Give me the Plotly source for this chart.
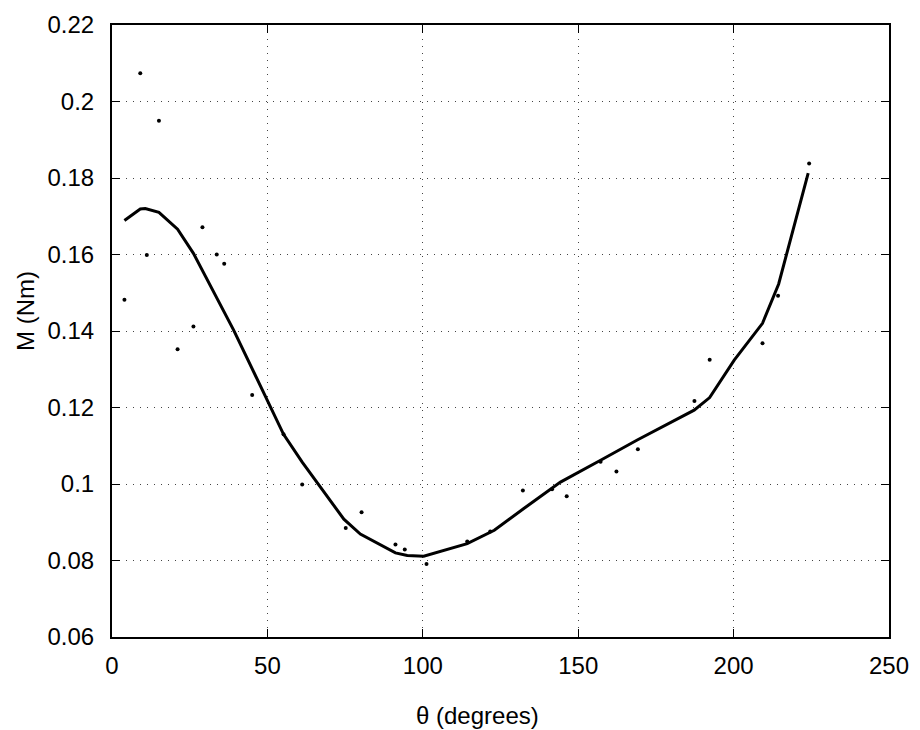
import plotly.graph_objects as go

theta_pts = [4.0, 9.1, 11.2, 15.1, 21.1, 26.2, 29.1, 33.7, 36.1, 45.1, 55.2, 61.2,
             75.2, 80.3, 91.2, 94.2, 101.2, 114.3, 121.7, 132.2, 141.6, 146.3, 157.2,
             162.3, 169.2, 187.4, 192.3, 209.3, 214.3, 224.3]
m_pts = [0.1482, 0.2074, 0.1599, 0.1950, 0.1352, 0.1412, 0.1671, 0.1600, 0.1576,
         0.1233, 0.1130, 0.0999, 0.0885, 0.0926, 0.0842, 0.0829, 0.0791, 0.0850,
         0.0876, 0.0983, 0.0986, 0.0968, 0.1058, 0.1033, 0.1091, 0.1217, 0.1325,
         0.1368, 0.1492, 0.1838]

theta_fit = [4.0, 9.1, 10.7, 15.1, 21.1, 26.2, 39.1, 55.2, 61.2, 74.6, 79.9, 91.2,
             95.0, 100.3, 114.3, 123.0, 132.5, 144.3, 157.2, 169.0, 187.3, 192.3,
             200.2, 209.3, 214.5, 224.0]
m_fit = [0.1689, 0.1719, 0.1720, 0.1710, 0.1666, 0.1603, 0.1403, 0.1130, 0.1057,
         0.0908, 0.0869, 0.0820, 0.0813, 0.0811, 0.0844, 0.0879, 0.0936, 0.1005,
         0.1062, 0.1115, 0.1193, 0.1226, 0.1324, 0.1420, 0.1523, 0.1813]

x_title = "θ (degrees)"
y_title = "M (Nm)"

fig = go.Figure()
fig.add_trace(go.Scatter(x=theta_pts, y=m_pts, mode="markers",
                         marker=dict(color="black", size=4), showlegend=False))
fig.add_trace(go.Scatter(x=theta_fit, y=m_fit, mode="lines",
                         line=dict(color="black", width=3), showlegend=False))

font = "Liberation Sans, Arial, sans-serif"
axis_common = dict(
    showline=True, linecolor="black", linewidth=2, mirror="ticks",
    ticks="inside", ticklen=8, tickwidth=1, tickcolor="black",
    showgrid=True, gridcolor="#444444", gridwidth=1, griddash="1px,6px",
    zeroline=False, automargin=False,
    tickfont=dict(family=font, size=24, color="black"),
)

fig.update_xaxes(range=[0, 250], tickvals=[0, 50, 100, 150, 200, 250],
                 ticklabelstandoff=6, **axis_common)
fig.update_yaxes(range=[0.06, 0.22], tickvals=[0.06, 0.08, 0.1, 0.12, 0.14, 0.16, 0.18, 0.2, 0.22],
                 ticktext=["0.06", "0.08", "0.1", "0.12", "0.14", "0.16", "0.18", "0.2", "0.22"],
                 ticklabelstandoff=11, **axis_common)

fig.add_annotation(text=x_title, xref="paper", yref="paper",
                   x=(477 - 112) / 777, y=(637 - 715) / 612,
                   xanchor="center", yanchor="middle", showarrow=False,
                   font=dict(family=font, size=24, color="black"))
fig.add_annotation(text=y_title, xref="paper", yref="paper",
                   x=(25 - 112) / 777, y=(637 - 311) / 612, textangle=-90,
                   xanchor="center", yanchor="middle", showarrow=False,
                   font=dict(family=font, size=24, color="black"))

fig.update_layout(width=920, height=730, plot_bgcolor="white", paper_bgcolor="white",
                  margin=dict(l=104, r=39, t=17, b=101))

fig.write_html("out.html")
